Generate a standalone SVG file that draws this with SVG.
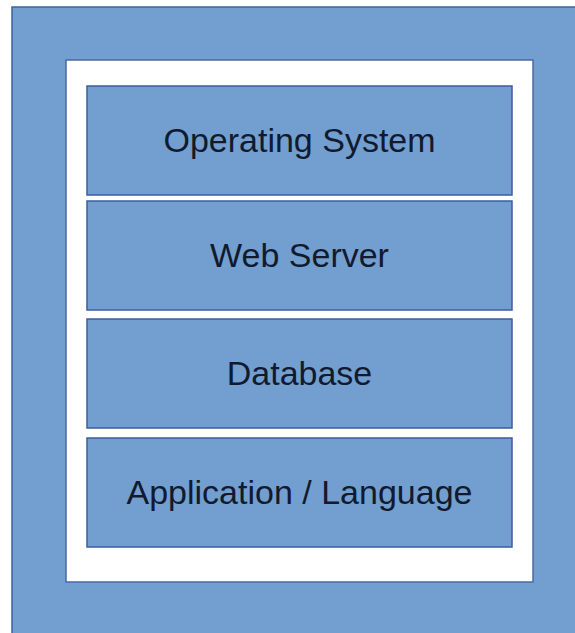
<svg xmlns="http://www.w3.org/2000/svg" width="575" height="633" viewBox="0 0 575 633">
<style>
.outer{fill:#729fcf;stroke:#3f62a0;stroke-width:1.5}
.frame{fill:#ffffff;stroke:#4a6aa6;stroke-width:1.5}
.layer{fill:#729fcf;stroke:#3a5e9e;stroke-width:1.5}
.lbl{font-family:"Liberation Sans",Arial,sans-serif;font-size:34px;fill:#111a2e;text-anchor:middle}
</style>
<rect width="575" height="633" fill="#ffffff"/>
<g id="stack">
<rect class="outer" x="12" y="7" width="580" height="640"/>
</g>
<g id="frame">
<rect class="frame" x="66" y="60" width="467" height="522"/>
</g>
<g id="os">
<rect class="layer" x="87" y="86" width="425" height="109"/>
<text class="lbl" x="299.5" y="152">Operating System</text>
</g>
<g id="webserver">
<rect class="layer" x="87" y="201" width="425" height="109"/>
<text class="lbl" x="299.5" y="267">Web Server</text>
</g>
<g id="database">
<rect class="layer" x="87" y="319" width="425" height="109"/>
<text class="lbl" x="299.5" y="385">Database</text>
</g>
<g id="application">
<rect class="layer" x="87" y="438" width="425" height="109"/>
<text class="lbl" x="299.5" y="504">Application / Language</text>
</g>
<g id="connectors"/>
</svg>
